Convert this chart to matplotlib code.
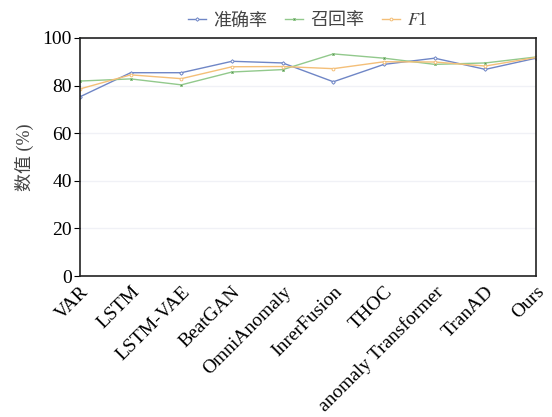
import matplotlib
matplotlib.use("Agg")
import matplotlib.pyplot as plt
import numpy as np

plt.rcParams['font.family'] = ['Liberation Serif', 'Noto Sans CJK SC']
plt.rcParams['mathtext.fontset'] = 'stix'

models = ['VAR', 'LSTM', 'LSTM-VAE', 'BeatGAN', 'OmniAnomaly', 'InrerFusion',
          'THOC', 'anomaly Transformer', 'TranAD', 'Ours']
precision = [75.3, 85.4, 85.4, 90.2, 89.5, 81.6, 88.9, 91.5, 86.8, 91.5]
recall = [81.9, 82.8, 80.3, 85.7, 86.7, 93.3, 91.5, 88.9, 89.5, 92.0]
f1 = [78.6, 84.5, 82.9, 87.9, 88.0, 87.1, 90.0, 89.9, 88.2, 91.8]
yticks = [0, 20, 40, 60, 80, 100]

fig = plt.figure(figsize=(5.52, 4.17), dpi=100)
ax = fig.add_axes([0.145, 0.338, 0.826, 0.571])

x = np.arange(len(models))
ax.plot(x, precision, '-', color='#6f86c6', lw=1.0, marker='D', ms=1.8,
        mfc='white', mew=0.7, label='准确率')
ax.plot(x, recall, '-', color='#92c98c', lw=1.0, marker='s', ms=2.0,
        mfc='#5f8a5a', mew=0.7, label='召回率')
ax.plot(x, f1, '-', color='#f4bf78', lw=1.0, marker='o', ms=2.0,
        mfc='white', mew=0.7, label='$F$1')

ax.set_xlim(0, len(models) - 1)
ax.set_ylim(0, 100)
ax.set_yticks(yticks)
ax.yaxis.grid(True, color='#f0f1f6', lw=1.0)
ax.set_axisbelow(True)
ax.set_xticks(x)
ax.set_xticklabels(models, rotation=45, ha='right', rotation_mode='anchor')
ax.tick_params(axis='x', length=0, labelsize=14, pad=5)
ax.tick_params(axis='y', direction='out', length=4, labelsize=14, pad=2)
ax.set_ylabel('数值 (%)', fontsize=13, color='#444444', labelpad=6)
for s in ax.spines.values():
    s.set_color('#222222')
    s.set_linewidth(1.2)

leg = ax.legend(loc='lower center', bbox_to_anchor=(0.5, 0.99), ncol=3,
                frameon=False, fontsize=13, handlelength=1.0,
                handletextpad=0.4, columnspacing=1.0, borderaxespad=0.2)
for t in leg.get_texts():
    t.set_color('#444444')

fig.savefig('out.png', dpi=100)
